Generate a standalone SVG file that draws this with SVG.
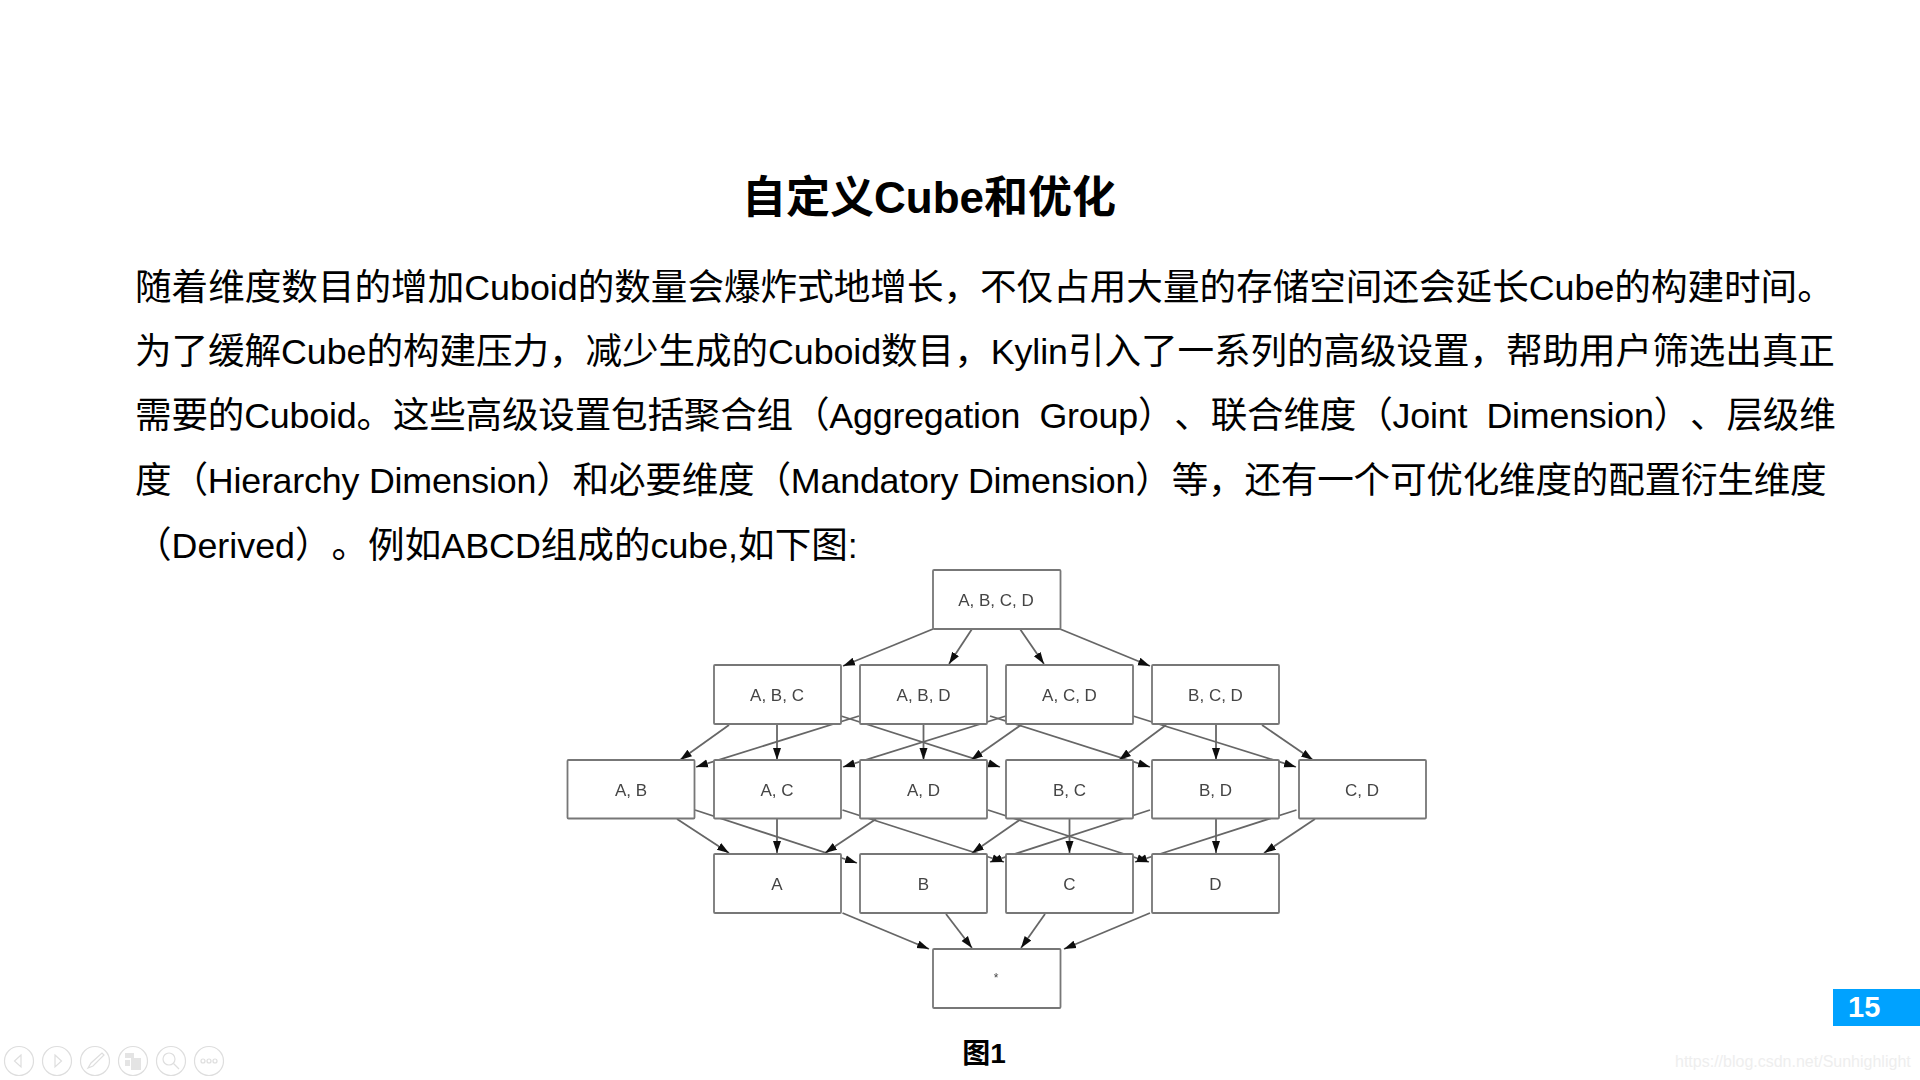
<svg xmlns="http://www.w3.org/2000/svg" width="1920" height="1080" viewBox="0 0 1920 1080">
<defs>
<style>
text{font-family:"Liberation Sans","Noto Sans CJK SC",sans-serif;text-spacing-trim:space-all}
.t{font-size:44px;font-weight:700;fill:#000;text-anchor:middle}
.b{font-size:36.6px;fill:#000}
.x{font-size:35.8px}
.nd{filter:url(#s)}
.n{fill:#fff;stroke:#777;stroke-width:1.8}
.l{font-size:17px;fill:#444;text-anchor:middle}
.e{stroke:#666;stroke-width:1.8;fill:none;marker-end:url(#a)}
.i{fill:none;stroke:#dedede;stroke-width:1.2}
.if{fill:#e4e4e4;stroke:none}
</style>
<filter id="s" x="-5%" y="-5%" width="110%" height="110%"><feGaussianBlur stdDeviation="0.4"/></filter>
<marker id="a" markerUnits="userSpaceOnUse" markerWidth="14" markerHeight="10" refX="12" refY="4.500" orient="auto"><path d="M0 0.500L12 4.500L0 8.500Z" fill="#111"/></marker>
</defs>
<rect width="1920" height="1080" fill="#fff"/>
<text class="t" x="929" y="213">自定义Cube和优化</text>
<g id="body">
<text class="b" x="135" y="299.500">随着维度数目的增加<tspan class="x">Cuboid</tspan>的数量会爆炸式地增长，不仅占用大量的存储空间还会延长<tspan class="x">Cube</tspan>的构建时间。</text>
<text class="b" x="135" y="364" letter-spacing="-0.065">为了缓解<tspan class="x">Cube</tspan>的构建压力，减少生成的<tspan class="x">Cuboid</tspan>数目，<tspan class="x">Kylin</tspan>引入了一系列的高级设置，帮助用户筛选出真正</text>
<text class="b" x="135" y="428" word-spacing="9.5" letter-spacing="-0.2">需要的<tspan class="x">Cuboid</tspan>。这些高级设置包括聚合组（<tspan class="x">Aggregation Group</tspan>）、联合维度（<tspan class="x">Joint Dimension</tspan>）、层级维</text>
<text class="b" x="135" y="493" letter-spacing="-0.2">度（<tspan class="x">Hierarchy Dimension</tspan>）和必要维度（<tspan class="x">Mandatory Dimension</tspan>）等，还有一个可优化维度的配置衍生维度</text>
<text class="b" x="135" y="558">（<tspan class="x">Derived</tspan>）。例如<tspan class="x">ABCD</tspan>组成的<tspan class="x">cube,</tspan>如下图<tspan class="x">:</tspan></text>
</g>
<g id="connectors" class="nd">
<path class="e" d="M933 629L843 666"/>
<path class="e" d="M972 629L949 664"/>
<path class="e" d="M1020 629L1044 664"/>
<path class="e" d="M1060 629L1150 666"/>
<path class="e" d="M729 725L680 760"/>
<path class="e" d="M777 724V760"/>
<path class="e" d="M841 716L1000 767"/>
<path class="e" d="M859 716L696 767"/>
<path class="e" d="M923.500 724V760"/>
<path class="e" d="M990 716L1150 767"/>
<path class="e" d="M1006 716L843 767"/>
<path class="e" d="M1021 725L971 760"/>
<path class="e" d="M1133 716L1296 767"/>
<path class="e" d="M1166 725L1119 760"/>
<path class="e" d="M1216 724V760"/>
<path class="e" d="M1262 725L1313 760"/>
<path class="e" d="M677 819L729 853"/>
<path class="e" d="M695 810L857 863"/>
<path class="e" d="M777 819V853"/>
<path class="e" d="M842.500 810L1004 862"/>
<path class="e" d="M876 819L825 853"/>
<path class="e" d="M988 810L1149 862"/>
<path class="e" d="M1021 819L972 853"/>
<path class="e" d="M1069.500 819V853"/>
<path class="e" d="M1150 810L990 862"/>
<path class="e" d="M1216 819V853"/>
<path class="e" d="M1296.500 810L1135 862"/>
<path class="e" d="M1315 819L1264 853"/>
<path class="e" d="M842.500 913L929 949"/>
<path class="e" d="M946 914L972 948"/>
<path class="e" d="M1045 914L1021 948"/>
<path class="e" d="M1150 913L1064 949"/>
</g>
<g id="n-abcd" class="nd"><rect class="n" x="933" y="570" width="127.500" height="59" rx="1"/><text class="l" x="996" y="606">A, B, C, D</text></g>
<g id="n-abc" class="nd"><rect class="n" x="714" y="665" width="127" height="59" rx="1"/><text class="l" x="777" y="701">A, B, C</text></g>
<g id="n-abd" class="nd"><rect class="n" x="860" y="665" width="127" height="59" rx="1"/><text class="l" x="923.500" y="701">A, B, D</text></g>
<g id="n-acd" class="nd"><rect class="n" x="1006" y="665" width="127" height="59" rx="1"/><text class="l" x="1069.500" y="701">A, C, D</text></g>
<g id="n-bcd" class="nd"><rect class="n" x="1152" y="665" width="127" height="59" rx="1"/><text class="l" x="1215.500" y="701">B, C, D</text></g>
<g id="n-ab" class="nd"><rect class="n" x="567.500" y="760" width="127" height="58.500" rx="1"/><text class="l" x="631" y="796">A, B</text></g>
<g id="n-ac" class="nd"><rect class="n" x="714" y="760" width="127" height="58.500" rx="1"/><text class="l" x="777" y="796">A, C</text></g>
<g id="n-ad" class="nd"><rect class="n" x="860" y="760" width="127" height="58.500" rx="1"/><text class="l" x="923.500" y="796">A, D</text></g>
<g id="n-bc" class="nd"><rect class="n" x="1006" y="760" width="127" height="58.500" rx="1"/><text class="l" x="1069.500" y="796">B, C</text></g>
<g id="n-bd" class="nd"><rect class="n" x="1152" y="760" width="127" height="58.500" rx="1"/><text class="l" x="1215.500" y="796">B, D</text></g>
<g id="n-cd" class="nd"><rect class="n" x="1299" y="760" width="127" height="58.500" rx="1"/><text class="l" x="1362" y="796">C, D</text></g>
<g id="n-a" class="nd"><rect class="n" x="714" y="854" width="127" height="59" rx="1"/><text class="l" x="777" y="890">A</text></g>
<g id="n-b" class="nd"><rect class="n" x="860" y="854" width="127" height="59" rx="1"/><text class="l" x="923.500" y="890">B</text></g>
<g id="n-c" class="nd"><rect class="n" x="1006" y="854" width="127" height="59" rx="1"/><text class="l" x="1069.500" y="890">C</text></g>
<g id="n-d" class="nd"><rect class="n" x="1152" y="854" width="127" height="59" rx="1"/><text class="l" x="1215.500" y="890">D</text></g>
<g id="n-all" class="nd"><rect class="n" x="933" y="949" width="127.500" height="59" rx="1"/><text class="l" x="996" y="982" style="font-size:12px">*</text></g>
<text id="caption" x="984" y="1063" font-size="28" font-weight="700" text-anchor="middle">图1</text>
<g id="page"><rect x="1833" y="989" width="87" height="37" fill="#00a2ff"/><text x="1848" y="1017" font-size="29" font-weight="700" fill="#fff">15</text></g>
<text id="watermark" x="1675" y="1067" font-size="16" fill="#eeeeee">https://blog.csdn.net/Sunhighlight</text>
<g id="toolbar">
<circle class="i" cx="19" cy="1061" r="14.500"/><path class="i" d="M21 1055L14.500 1061L21 1067Z"/>
<circle class="i" cx="57" cy="1061" r="14.500"/><path class="i" d="M55 1055L61.500 1061L55 1067Z"/>
<circle class="i" cx="95" cy="1061" r="14.500"/><path class="i" d="M88 1068L91 1063L102 1053L104 1055L93 1066Z"/>
<circle class="i" cx="133" cy="1061" r="14.500"/><path class="if" d="M125 1053h9v5h-9zM125 1060h5v6h-5zM131 1058h10v12h-10z"/>
<circle class="i" cx="171" cy="1061" r="14.500"/><circle class="i" cx="169" cy="1059" r="6" stroke-width="2"/><path class="i" d="M173.500 1063.500L179 1069" stroke-width="2"/>
<circle class="i" cx="209" cy="1061" r="14.500"/><circle class="i" cx="203" cy="1061" r="2"/><circle class="i" cx="209" cy="1061" r="2"/><circle class="i" cx="215" cy="1061" r="2"/>
</g>
</svg>
